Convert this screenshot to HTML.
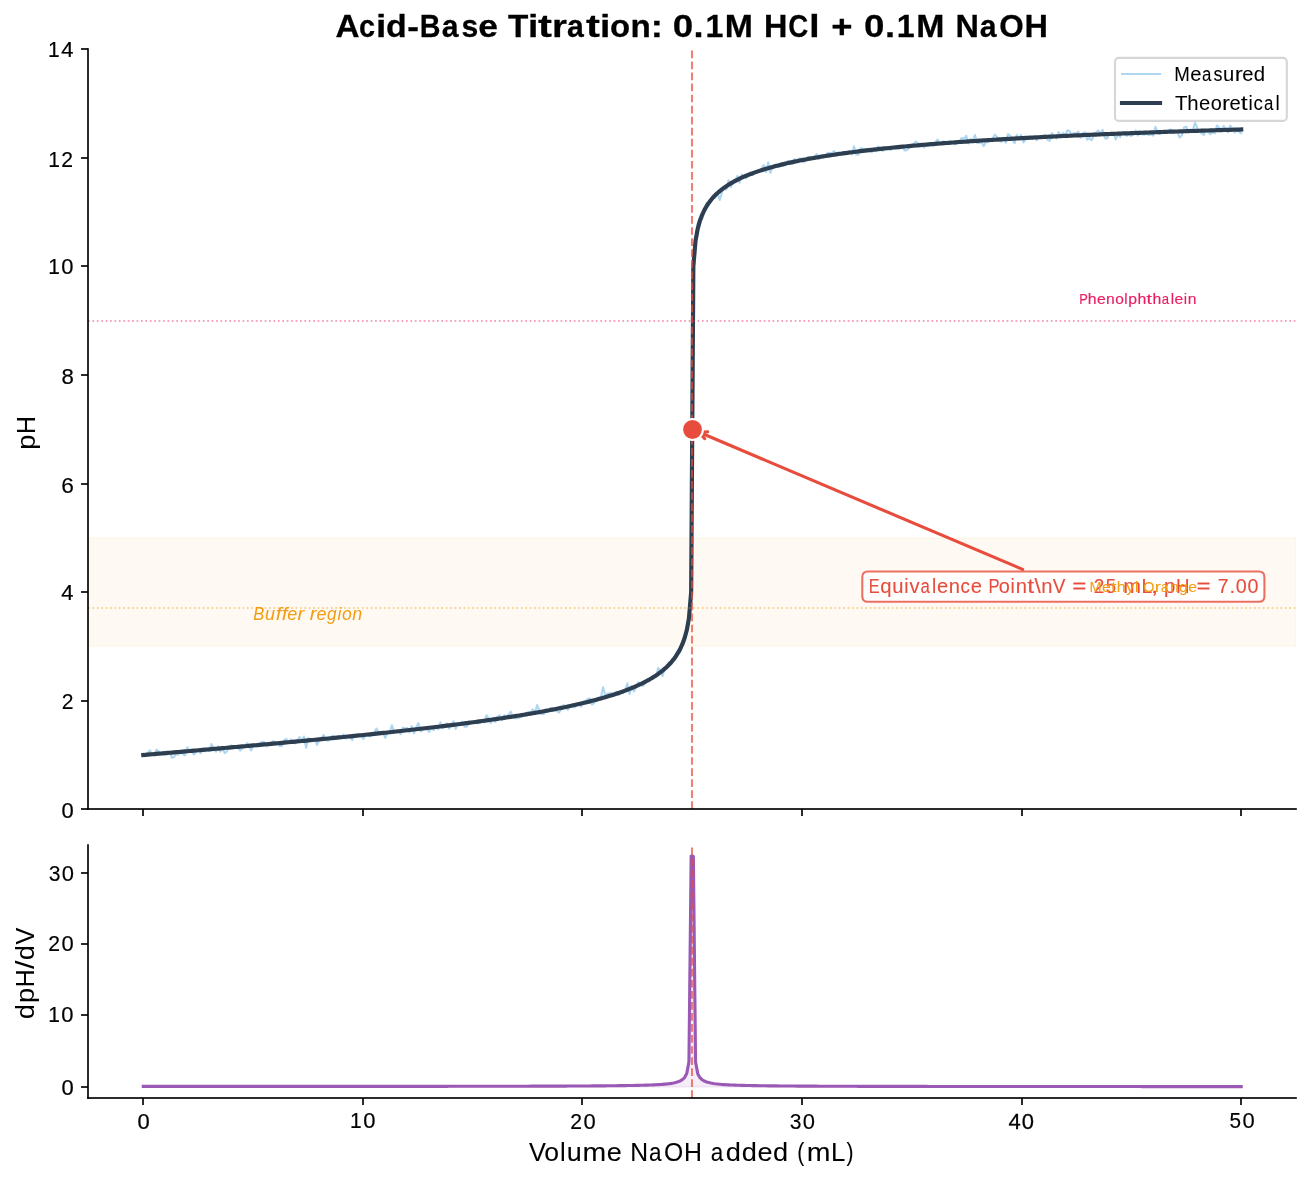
<!DOCTYPE html>
<html><head><meta charset="utf-8"><title>Acid-Base Titration</title>
<style>html,body{margin:0;padding:0;background:#fff;overflow:hidden}svg{display:block;will-change:transform}</style>
</head><body>
<svg width="1311" height="1180" viewBox="0 0 1311 1180">
<rect width="1311" height="1180" fill="#fff"/>
<defs><clipPath id="c1"><rect x="88" y="49" width="1208" height="760"/></clipPath><clipPath id="c2"><rect x="88" y="845" width="1208" height="253"/></clipPath></defs>
<g clip-path="url(#c1)"><path d="M88 646H1296V538H88Z" fill="#f39c12" fill-opacity="0.05" stroke="#f39c12" stroke-opacity="0.05" stroke-width="2.08" stroke-linejoin="miter"/></g>
<path d="M143 809V816" stroke="#000" stroke-opacity="0.8333" stroke-width="2"/>
<path d="M363 809V816" stroke="#000" stroke-opacity="0.8333" stroke-width="2"/>
<path d="M582 809V816" stroke="#000" stroke-opacity="0.8333" stroke-width="2"/>
<path d="M802 809V816" stroke="#000" stroke-opacity="0.8333" stroke-width="2"/>
<path d="M1022 809V816" stroke="#000" stroke-opacity="0.8333" stroke-width="2"/>
<path d="M1241 809V816" stroke="#000" stroke-opacity="0.8333" stroke-width="2"/>
<path d="M81 809H88" stroke="#000" stroke-opacity="0.8333" stroke-width="2"/>
<path d="M81 701H88" stroke="#000" stroke-opacity="0.8333" stroke-width="2"/>
<path d="M81 592H88" stroke="#000" stroke-opacity="0.8333" stroke-width="2"/>
<path d="M81 484H88" stroke="#000" stroke-opacity="0.8333" stroke-width="2"/>
<path d="M81 375H88" stroke="#000" stroke-opacity="0.8333" stroke-width="2"/>
<path d="M81 266H88" stroke="#000" stroke-opacity="0.8333" stroke-width="2"/>
<path d="M81 158H88" stroke="#000" stroke-opacity="0.8333" stroke-width="2"/>
<path d="M81 49H88" stroke="#000" stroke-opacity="0.8333" stroke-width="2"/>
<text transform="translate(74.27 817.5)" y="0" stroke="#000" stroke-width="0.244" stroke-linejoin="round" style="font-family:'Liberation Sans', sans-serif;font-size:21.98px;font-variant-ligatures:none;white-space:pre"><tspan x="-12.74" textLength="12.21" lengthAdjust="spacingAndGlyphs">0</tspan></text>
<text transform="translate(74.42 709.07)" y="0" stroke="#000" stroke-width="0.126" stroke-linejoin="round" style="font-family:'Liberation Sans', sans-serif;font-size:21.98px;font-variant-ligatures:none;white-space:pre"><tspan x="-12.79" textLength="11.77" lengthAdjust="spacingAndGlyphs">2</tspan></text>
<text transform="translate(74.07 600.23)" y="0" stroke="#000" stroke-width="0.212" stroke-linejoin="round" style="font-family:'Liberation Sans', sans-serif;font-size:21.98px;font-variant-ligatures:none;white-space:pre"><tspan x="-12.74" textLength="12.22" lengthAdjust="spacingAndGlyphs">4</tspan></text>
<text transform="translate(74.12 492.72)" y="0" stroke="#000" stroke-width="0.159" stroke-linejoin="round" style="font-family:'Liberation Sans', sans-serif;font-size:21.98px;font-variant-ligatures:none;white-space:pre"><tspan x="-12.95" textLength="12.64" lengthAdjust="spacingAndGlyphs">6</tspan></text>
<text transform="translate(74.31 383.58)" y="0" stroke="#000" stroke-width="0.206" stroke-linejoin="round" style="font-family:'Liberation Sans', sans-serif;font-size:21.98px;font-variant-ligatures:none;white-space:pre"><tspan x="-12.81" textLength="12.35" lengthAdjust="spacingAndGlyphs">8</tspan></text>
<text transform="translate(73.99 274.13)" y="0" stroke="#000" stroke-width="0.212" stroke-linejoin="round" style="font-family:'Liberation Sans', sans-serif;font-size:21.98px;font-variant-ligatures:none;white-space:pre"><tspan x="-25.82" textLength="11.67" lengthAdjust="spacingAndGlyphs">1</tspan><tspan x="-12.74" textLength="12.21" lengthAdjust="spacingAndGlyphs">0</tspan></text>
<text transform="translate(73.95 166.65)" y="0" stroke="#000" stroke-width="0.15" stroke-linejoin="round" style="font-family:'Liberation Sans', sans-serif;font-size:21.98px;font-variant-ligatures:none;white-space:pre"><tspan x="-25.82" textLength="11.67" lengthAdjust="spacingAndGlyphs">1</tspan><tspan x="-12.79" textLength="11.77" lengthAdjust="spacingAndGlyphs">2</tspan></text>
<text transform="translate(73.88 56.92)" y="0" stroke="#000" stroke-width="0.206" stroke-linejoin="round" style="font-family:'Liberation Sans', sans-serif;font-size:21.98px;font-variant-ligatures:none;white-space:pre"><tspan x="-25.82" textLength="11.67" lengthAdjust="spacingAndGlyphs">1</tspan><tspan x="-12.74" textLength="12.22" lengthAdjust="spacingAndGlyphs">4</tspan></text>
<text transform="translate(35.29 433.06) rotate(-90)" y="0" stroke="#000" stroke-width="0.027" stroke-linejoin="round" style="font-family:'Liberation Sans', sans-serif;font-size:26.38px;font-variant-ligatures:none;white-space:pre"><tspan x="-16.82" textLength="15.13" lengthAdjust="spacingAndGlyphs">p</tspan><tspan x="-1.05" textLength="17.96" lengthAdjust="spacingAndGlyphs">H</tspan></text>
<path clip-path="url(#c1)" d="M143.3 753.67L145.5 755.2L147.7 752.88L149.9 750.31L152.1 754.89L154.3 754.7L156.5 749.59L158.7 751.61L160.9 754.78L163.1 751.84L165.3 754.38L167.5 754.2L169.7 752.09L171.9 757.75L174.1 757.05L176.3 753.7L178.5 754.74L180.7 750.94L182.9 754.07L185.1 755.25L187.3 747.25L189.5 751.65L191.7 750.66L193.9 754.52L196.1 751.94L198.3 749.97L200.5 753.21L202.7 748.87L204.9 751.33L207.1 750.3L209.3 750.95L211.5 744.1L213.7 748.97L215.9 751.61L218.1 746.32L220.3 751.67L222.5 747.6L224.7 753.29L226.9 751.38L229.1 747.05L231.3 745.38L233.5 746.73L235.7 747.31L237.9 747.62L240.11 750.62L242.31 748.37L244.51 747.47L246.71 743.16L248.91 744.9L251.11 750.42L253.31 744.56L255.51 746.28L257.71 746.88L259.91 743.18L262.11 741.85L264.31 741.92L266.51 746.53L268.71 744.89L270.91 742.95L273.11 741L275.31 744.75L277.51 743.75L279.71 746.05L281.91 746.09L284.11 740.44L286.31 738.76L288.51 742.43L290.71 739.31L292.91 740.85L295.11 743.38L297.31 740.44L299.51 737.04L301.71 741.11L303.91 736.56L306.11 747.71L308.31 738.16L310.51 739.94L312.71 740.78L314.91 739.51L317.11 744.95L319.31 739.94L321.51 738.16L323.71 734.91L325.91 740.11L328.11 740.69L330.31 739.64L332.51 735.58L334.71 736.96L336.91 739.08L339.11 736.03L341.32 736.94L343.52 734.36L345.72 738.67L347.92 737.44L350.12 737.39L352.32 740.08L354.52 735.08L356.72 734.96L358.92 735.43L361.12 735.85L363.32 738.84L365.52 735.91L367.72 735.47L369.92 736.49L372.12 734.52L374.32 732.76L376.52 728.51L378.72 732.92L380.92 732.46L383.12 733.13L385.32 737.9L387.52 732.53L389.72 732.06L391.92 725.3L394.12 732.27L396.32 730.69L398.52 731.36L400.72 734.2L402.92 727.68L405.12 728.5L407.32 728.15L409.52 732.52L411.72 725.99L413.92 733.36L416.12 727.71L418.32 723.1L420.52 731.49L422.72 730.08L424.92 728.02L427.12 729.4L429.32 731.98L431.52 727.33L433.72 730.13L435.92 725.7L438.12 729.22L440.32 722.25L442.53 728.31L444.73 726.79L446.93 723.44L449.13 728.71L451.33 724.48L453.53 721.27L455.73 728.91L457.93 723.76L460.13 723.27L462.33 721.57L464.53 726.77L466.73 726.7L468.93 721.41L471.13 721.73L473.33 721.56L475.53 721L477.73 723.49L479.93 720.71L482.13 720.24L484.33 722.67L486.53 715.36L488.73 718.83L490.93 723.03L493.13 717.7L495.33 721.81L497.53 716.7L499.73 715.37L501.93 720.41L504.13 715.24L506.33 716.4L508.53 714.95L510.73 711.69L512.93 717.16L515.13 718.2L517.33 718.21L519.53 717.66L521.73 715.3L523.93 713.8L526.13 713.61L528.33 711.74L530.53 713.58L532.73 709.29L534.93 713.57L537.13 705.08L539.33 710.38L541.54 714.01L543.74 714.18L545.94 709.56L548.14 711.07L550.34 708.1L552.54 708.34L554.74 709.39L556.94 711.06L559.14 712.43L561.34 709.08L563.54 705.09L565.74 706.38L567.94 709.87L570.14 705.55L572.34 704.49L574.54 707.44L576.74 704.13L578.94 703.88L581.14 706.63L583.34 702.03L585.54 700.95L587.74 698.99L589.94 698.51L592.14 704.55L594.34 702.78L596.54 698.24L598.74 697.65L600.94 697.03L603.14 687.35L605.34 695.61L607.54 693.42L609.74 693.25L611.94 693.38L614.14 695.3L616.34 691.66L618.54 695.07L620.74 692.85L622.94 692.74L625.14 690.39L627.34 683.49L629.54 693.98L631.74 686.15L633.94 691.47L636.14 687.42L638.34 682.19L640.54 683.94L642.75 685.96L644.95 683.86L647.15 678.9L649.35 681.5L651.55 677.64L653.75 676.74L655.95 677.2L658.15 668.09L660.35 670.57L662.55 676.05L664.75 668.18L666.95 668.47L669.15 662.17L671.35 664.23L673.55 659.72L675.75 655.04L677.95 650.63L680.15 652.26L682.35 645.13L684.55 639.54L686.75 632.04L688.95 613.38L691.15 591.13L693.35 269.84L695.55 238.07L697.75 222.81L699.95 217.88L702.15 218.93L704.35 211.44L706.55 202.79L708.75 204.82L710.95 198.79L713.15 195.32L715.35 197.62L717.55 193.17L719.75 199.89L721.95 192.1L724.15 188.37L726.35 189.54L728.55 180.3L730.75 187.27L732.95 183.32L735.15 180.57L737.35 175.88L739.55 182.61L741.75 174.53L743.96 176.68L746.16 178.44L748.36 173.62L750.56 173.47L752.76 174.81L754.96 172.2L757.16 172.66L759.36 170.57L761.56 168.36L763.76 165.16L765.96 172.16L768.16 162.36L770.36 172.82L772.56 167.32L774.76 164.72L776.96 164.98L779.16 166.87L781.36 165.2L783.56 165.44L785.76 165.18L787.96 160.77L790.16 161.62L792.36 163.99L794.56 159.19L796.76 160.34L798.96 158.52L801.16 158.58L803.36 162.11L805.56 160.96L807.76 157L809.96 156.97L812.16 158.29L814.36 157.53L816.56 154L818.76 158.71L820.96 155.25L823.16 156.93L825.36 156.62L827.56 152.7L829.76 153.11L831.96 152.81L834.16 151.14L836.36 154.31L838.56 152.2L840.76 154.58L842.96 152.56L845.17 153.49L847.37 152.58L849.57 150.93L851.77 154.48L853.97 146.3L856.17 154.43L858.37 154.73L860.57 148.02L862.77 148.75L864.97 148.94L867.17 148.67L869.37 150.16L871.57 152.31L873.77 149.42L875.97 151.22L878.17 146.49L880.37 149.3L882.57 150.91L884.77 149.31L886.97 147.09L889.17 149.52L891.37 150L893.57 146.88L895.77 146.66L897.97 148.49L900.17 148.18L902.37 146.07L904.57 150.42L906.77 150.11L908.97 148.04L911.17 146.47L913.37 144.85L915.57 141.49L917.77 142.98L919.97 145.55L922.17 144.98L924.37 147.46L926.57 144.61L928.77 145.16L930.97 143.32L933.17 146.27L935.37 142.43L937.57 139.51L939.77 143.79L941.97 142.24L944.18 141.29L946.38 144.08L948.58 142.22L950.78 142.63L952.98 142.24L955.18 144.44L957.38 142.12L959.58 140.68L961.78 137.93L963.98 139.12L966.18 135.72L968.38 143.5L970.58 138.9L972.78 140.62L974.98 135.03L977.18 143.02L979.38 142.96L981.58 142.17L983.78 146.16L985.98 141.69L988.18 142.18L990.38 139.58L992.58 138.92L994.78 134.62L996.98 137L999.18 141.01L1001.38 141.75L1003.58 137.85L1005.78 142.64L1007.98 133.96L1010.18 135.6L1012.38 139.95L1014.58 143.2L1016.78 134.75L1018.98 138.61L1021.18 134.82L1023.38 142.39L1025.58 139.57L1027.78 137.81L1029.98 137.58L1032.18 138.81L1034.38 135.78L1036.58 140.25L1038.78 137.63L1040.98 136.8L1043.18 135.62L1045.39 134.97L1047.59 139.84L1049.79 140.85L1051.99 133.11L1054.19 135.56L1056.39 138.39L1058.59 132.04L1060.79 135.83L1062.99 132.84L1065.19 135.75L1067.39 130.24L1069.59 130.97L1071.79 136.3L1073.99 132.89L1076.19 133.67L1078.39 131.61L1080.59 137.85L1082.79 133.27L1084.99 132.16L1087.19 139.71L1089.39 138.05L1091.59 140.28L1093.79 135.38L1095.99 132.61L1098.19 130.38L1100.39 134.17L1102.59 129.85L1104.79 137.93L1106.99 138.72L1109.19 134.15L1111.39 132.87L1113.59 133.91L1115.79 139.35L1117.99 133.89L1120.19 137.1L1122.39 131.65L1124.59 132.39L1126.79 135.85L1128.99 134.61L1131.19 136L1133.39 133.22L1135.59 130.37L1137.79 135.55L1139.99 131.43L1142.19 134.15L1144.39 134.78L1146.6 132.84L1148.8 135.28L1151 133.89L1153.2 135.56L1155.4 126.9L1157.6 132.06L1159.8 133.97L1162 131.42L1164.2 132.23L1166.4 132.44L1168.6 130.1L1170.8 129.64L1173 133.06L1175.2 133.11L1177.4 132.21L1179.6 137.64L1181.8 135.43L1184 127.54L1186.2 126.71L1188.4 131.78L1190.6 129.47L1192.8 130.11L1195 122.53L1197.2 127.78L1199.4 131.1L1201.6 133.27L1203.8 134.97L1206 129.99L1208.2 132.52L1210.4 134.26L1212.6 132.09L1214.8 133.2L1217 125.62L1219.2 127.74L1221.4 130.09L1223.6 125.98L1225.8 129.73L1228 132.21L1230.2 125.67L1232.4 128.28L1234.6 132.49L1236.8 130.13L1239 131.93L1241.2 133.24" fill="none" stroke="#3498db" stroke-opacity="0.4" stroke-width="2.08" stroke-linejoin="round" stroke-linecap="square"/>
<path clip-path="url(#c1)" d="M143.3 755.01L145.5 754.83L147.7 754.64L149.9 754.45L152.1 754.26L154.3 754.07L156.5 753.88L158.7 753.69L160.9 753.5L163.1 753.31L165.3 753.12L167.5 752.93L169.7 752.74L171.9 752.56L174.1 752.37L176.3 752.18L178.5 751.99L180.7 751.8L182.9 751.61L185.1 751.42L187.3 751.23L189.5 751.04L191.7 750.85L193.9 750.66L196.1 750.46L198.3 750.27L200.5 750.08L202.7 749.89L204.9 749.7L207.1 749.51L209.3 749.32L211.5 749.13L213.7 748.93L215.9 748.74L218.1 748.55L220.3 748.36L222.5 748.16L224.7 747.97L226.9 747.78L229.1 747.58L231.3 747.39L233.5 747.19L235.7 747L237.9 746.81L240.11 746.61L242.31 746.42L244.51 746.22L246.71 746.02L248.91 745.83L251.11 745.63L253.31 745.44L255.51 745.24L257.71 745.04L259.91 744.84L262.11 744.65L264.31 744.45L266.51 744.25L268.71 744.05L270.91 743.85L273.11 743.65L275.31 743.45L277.51 743.25L279.71 743.05L281.91 742.84L284.11 742.64L286.31 742.44L288.51 742.24L290.71 742.03L292.91 741.83L295.11 741.63L297.31 741.42L299.51 741.22L301.71 741.01L303.91 740.8L306.11 740.6L308.31 740.39L310.51 740.18L312.71 739.97L314.91 739.76L317.11 739.55L319.31 739.34L321.51 739.13L323.71 738.92L325.91 738.71L328.11 738.5L330.31 738.28L332.51 738.07L334.71 737.85L336.91 737.64L339.11 737.42L341.32 737.2L343.52 736.99L345.72 736.77L347.92 736.55L350.12 736.33L352.32 736.11L354.52 735.89L356.72 735.67L358.92 735.44L361.12 735.22L363.32 734.99L365.52 734.77L367.72 734.54L369.92 734.31L372.12 734.09L374.32 733.86L376.52 733.63L378.72 733.4L380.92 733.16L383.12 732.93L385.32 732.7L387.52 732.46L389.72 732.22L391.92 731.99L394.12 731.75L396.32 731.51L398.52 731.27L400.72 731.03L402.92 730.78L405.12 730.54L407.32 730.3L409.52 730.05L411.72 729.8L413.92 729.55L416.12 729.3L418.32 729.05L420.52 728.8L422.72 728.54L424.92 728.29L427.12 728.03L429.32 727.77L431.52 727.51L433.72 727.25L435.92 726.99L438.12 726.72L440.32 726.46L442.53 726.19L444.73 725.92L446.93 725.65L449.13 725.37L451.33 725.1L453.53 724.82L455.73 724.54L457.93 724.26L460.13 723.98L462.33 723.7L464.53 723.41L466.73 723.12L468.93 722.83L471.13 722.54L473.33 722.24L475.53 721.95L477.73 721.65L479.93 721.34L482.13 721.04L484.33 720.73L486.53 720.42L488.73 720.11L490.93 719.8L493.13 719.48L495.33 719.16L497.53 718.84L499.73 718.51L501.93 718.19L504.13 717.86L506.33 717.52L508.53 717.18L510.73 716.84L512.93 716.5L515.13 716.15L517.33 715.8L519.53 715.45L521.73 715.09L523.93 714.73L526.13 714.36L528.33 713.99L530.53 713.62L532.73 713.24L534.93 712.85L537.13 712.47L539.33 712.08L541.54 711.68L543.74 711.28L545.94 710.87L548.14 710.46L550.34 710.04L552.54 709.62L554.74 709.19L556.94 708.76L559.14 708.32L561.34 707.87L563.54 707.42L565.74 706.96L567.94 706.49L570.14 706.02L572.34 705.53L574.54 705.04L576.74 704.55L578.94 704.04L581.14 703.53L583.34 703L585.54 702.47L587.74 701.92L589.94 701.37L592.14 700.81L594.34 700.23L596.54 699.64L598.74 699.04L600.94 698.43L603.14 697.8L605.34 697.16L607.54 696.51L609.74 695.84L611.94 695.15L614.14 694.44L616.34 693.72L618.54 692.97L620.74 692.21L622.94 691.42L625.14 690.61L627.34 689.77L629.54 688.91L631.74 688.02L633.94 687.09L636.14 686.14L638.34 685.14L640.54 684.11L642.75 683.04L644.95 681.92L647.15 680.74L649.35 679.52L651.55 678.23L653.75 676.87L655.95 675.43L658.15 673.91L660.35 672.29L662.55 670.55L664.75 668.69L666.95 666.68L669.15 664.48L671.35 662.08L673.55 659.41L675.75 656.41L677.95 652.98L680.15 649L682.35 644.22L684.55 638.25L686.75 630.27L688.95 618.18L691.15 592.23L693.35 266.42L695.55 240.57L697.75 228.57L699.95 220.68L702.15 214.81L704.35 210.12L706.55 206.23L708.75 202.9L710.95 200L713.15 197.42L715.35 195.11L717.55 193.01L719.75 191.09L721.95 189.32L724.15 187.68L726.35 186.16L728.55 184.73L730.75 183.39L732.95 182.12L735.15 180.93L737.35 179.79L739.55 178.72L741.75 177.69L743.96 176.71L746.16 175.77L748.36 174.87L750.56 174.01L752.76 173.18L754.96 172.39L757.16 171.62L759.36 170.88L761.56 170.16L763.76 169.47L765.96 168.8L768.16 168.15L770.36 167.52L772.56 166.91L774.76 166.31L776.96 165.74L779.16 165.18L781.36 164.63L783.56 164.1L785.76 163.58L787.96 163.08L790.16 162.59L792.36 162.1L794.56 161.64L796.76 161.18L798.96 160.73L801.16 160.29L803.36 159.86L805.56 159.44L807.76 159.03L809.96 158.63L812.16 158.24L814.36 157.85L816.56 157.47L818.76 157.1L820.96 156.74L823.16 156.38L825.36 156.03L827.56 155.68L829.76 155.35L831.96 155.01L834.16 154.69L836.36 154.37L838.56 154.05L840.76 153.74L842.96 153.43L845.17 153.13L847.37 152.84L849.57 152.55L851.77 152.26L853.97 151.98L856.17 151.7L858.37 151.43L860.57 151.16L862.77 150.9L864.97 150.63L867.17 150.38L869.37 150.12L871.57 149.87L873.77 149.63L875.97 149.38L878.17 149.14L880.37 148.9L882.57 148.67L884.77 148.44L886.97 148.21L889.17 147.99L891.37 147.77L893.57 147.55L895.77 147.33L897.97 147.12L900.17 146.91L902.37 146.7L904.57 146.49L906.77 146.29L908.97 146.09L911.17 145.89L913.37 145.69L915.57 145.5L917.77 145.3L919.97 145.12L922.17 144.93L924.37 144.74L926.57 144.56L928.77 144.38L930.97 144.2L933.17 144.02L935.37 143.84L937.57 143.67L939.77 143.5L941.97 143.33L944.18 143.16L946.38 142.99L948.58 142.83L950.78 142.67L952.98 142.5L955.18 142.34L957.38 142.19L959.58 142.03L961.78 141.87L963.98 141.72L966.18 141.57L968.38 141.42L970.58 141.27L972.78 141.12L974.98 140.97L977.18 140.83L979.38 140.68L981.58 140.54L983.78 140.4L985.98 140.26L988.18 140.12L990.38 139.98L992.58 139.85L994.78 139.71L996.98 139.58L999.18 139.45L1001.38 139.31L1003.58 139.18L1005.78 139.06L1007.98 138.93L1010.18 138.8L1012.38 138.67L1014.58 138.55L1016.78 138.43L1018.98 138.3L1021.18 138.18L1023.38 138.06L1025.58 137.94L1027.78 137.82L1029.98 137.7L1032.18 137.59L1034.38 137.47L1036.58 137.35L1038.78 137.24L1040.98 137.13L1043.18 137.01L1045.39 136.9L1047.59 136.79L1049.79 136.68L1051.99 136.57L1054.19 136.47L1056.39 136.36L1058.59 136.25L1060.79 136.15L1062.99 136.04L1065.19 135.94L1067.39 135.83L1069.59 135.73L1071.79 135.63L1073.99 135.53L1076.19 135.43L1078.39 135.33L1080.59 135.23L1082.79 135.13L1084.99 135.03L1087.19 134.93L1089.39 134.84L1091.59 134.74L1093.79 134.65L1095.99 134.55L1098.19 134.46L1100.39 134.37L1102.59 134.27L1104.79 134.18L1106.99 134.09L1109.19 134L1111.39 133.91L1113.59 133.82L1115.79 133.73L1117.99 133.65L1120.19 133.56L1122.39 133.47L1124.59 133.39L1126.79 133.3L1128.99 133.21L1131.19 133.13L1133.39 133.05L1135.59 132.96L1137.79 132.88L1139.99 132.8L1142.19 132.71L1144.39 132.63L1146.6 132.55L1148.8 132.47L1151 132.39L1153.2 132.31L1155.4 132.23L1157.6 132.15L1159.8 132.08L1162 132L1164.2 131.92L1166.4 131.84L1168.6 131.77L1170.8 131.69L1173 131.62L1175.2 131.54L1177.4 131.47L1179.6 131.39L1181.8 131.32L1184 131.25L1186.2 131.17L1188.4 131.1L1190.6 131.03L1192.8 130.96L1195 130.89L1197.2 130.82L1199.4 130.75L1201.6 130.68L1203.8 130.61L1206 130.54L1208.2 130.47L1210.4 130.4L1212.6 130.34L1214.8 130.27L1217 130.2L1219.2 130.13L1221.4 130.07L1223.6 130L1225.8 129.94L1228 129.87L1230.2 129.81L1232.4 129.74L1234.6 129.68L1236.8 129.61L1239 129.55L1241.2 129.49" fill="none" stroke="#2c3e50" stroke-width="4.17" stroke-linejoin="round" stroke-linecap="square"/>
<path clip-path="url(#c1)" d="M692 809V49" stroke="#e74c3c" stroke-opacity="0.7" stroke-width="2.08" stroke-dasharray="7.7083 3.3333"/>
<path clip-path="url(#c1)" d="M88 321H1296" stroke="#e91e63" stroke-opacity="0.4167" stroke-width="2" stroke-dasharray="1.6667 2.75"/>
<path clip-path="url(#c1)" d="M88 608H1296" stroke="#f39c12" stroke-opacity="0.4167" stroke-width="2" stroke-dasharray="1.6667 2.75"/>
<path d="M88 809.8333V48.1667" stroke="#000" stroke-opacity="0.8333" stroke-width="2"/>
<path d="M87.1667 809H1296.8333" stroke="#000" stroke-opacity="0.8333" stroke-width="2"/>
<text transform="translate(1196.71 304.1)" y="0" fill="#e91e63" stroke="#e91e63" stroke-width="0.168" stroke-linejoin="round" style="font-family:'Liberation Sans', sans-serif;font-size:15.39px;font-variant-ligatures:none;white-space:pre"><tspan x="-117.57" textLength="8.6" lengthAdjust="spacingAndGlyphs">P</tspan><tspan x="-108.92" textLength="8.81" lengthAdjust="spacingAndGlyphs">h</tspan><tspan x="-99.77" textLength="8.76" lengthAdjust="spacingAndGlyphs">e</tspan><tspan x="-90.65" textLength="8.74" lengthAdjust="spacingAndGlyphs">n</tspan><tspan x="-81.53" textLength="8.62" lengthAdjust="spacingAndGlyphs">o</tspan><tspan x="-72.4" textLength="3.31" lengthAdjust="spacingAndGlyphs">l</tspan><tspan x="-68.41" textLength="8.82" lengthAdjust="spacingAndGlyphs">p</tspan><tspan x="-59.23" textLength="8.81" lengthAdjust="spacingAndGlyphs">h</tspan><tspan x="-50.12" textLength="5.42" lengthAdjust="spacingAndGlyphs">t</tspan><tspan x="-44.27" textLength="8.81" lengthAdjust="spacingAndGlyphs">h</tspan><tspan x="-34.94" textLength="7.29" lengthAdjust="spacingAndGlyphs">a</tspan><tspan x="-25.95" textLength="3.31" lengthAdjust="spacingAndGlyphs">l</tspan><tspan x="-22.13" textLength="8.76" lengthAdjust="spacingAndGlyphs">e</tspan><tspan x="-12.92" textLength="3.31" lengthAdjust="spacingAndGlyphs">i</tspan><tspan x="-8.96" textLength="8.74" lengthAdjust="spacingAndGlyphs">n</tspan></text>
<path d="M1022.67 569.4Q859.37 500.17 699.3 432.29" fill="none" stroke="#e74c3c" stroke-width="3.12" stroke-linecap="round"/>
<path d="M704.74 438.67L699.3 432.29L707.67 431.77" fill="none" stroke="#e74c3c" stroke-width="3.12" stroke-linecap="round"/>
<path d="M867.92 601.78L1258.79 601.78Q1264.42 601.78 1264.42 596.16L1264.42 577.16Q1264.42 571.53 1258.79 571.53L867.92 571.53Q862.29 571.53 862.29 577.16L862.29 596.16Q862.29 601.78 867.92 601.78Z" fill="#fff" fill-opacity="0.8" stroke="#e74c3c" stroke-opacity="0.8" stroke-width="2.08" stroke-linejoin="miter"/>
<text transform="translate(868.17 593.38)" y="0" fill="#e74c3c" stroke="#e74c3c" stroke-width="0.1" stroke-linejoin="round" style="font-family:'Liberation Sans', sans-serif;font-size:19.78px;font-variant-ligatures:none;white-space:pre"><tspan x="0.51" textLength="10.84" lengthAdjust="spacingAndGlyphs">E</tspan><tspan x="12.03" textLength="11.32" lengthAdjust="spacingAndGlyphs">q</tspan><tspan x="24.03" textLength="11.24" lengthAdjust="spacingAndGlyphs">u</tspan><tspan x="36.12" textLength="4.26" lengthAdjust="spacingAndGlyphs">i</tspan><tspan x="41.33" textLength="10.12" lengthAdjust="spacingAndGlyphs">v</tspan><tspan x="52.35" textLength="9.38" lengthAdjust="spacingAndGlyphs">a</tspan><tspan x="63.9" textLength="4.26" lengthAdjust="spacingAndGlyphs">l</tspan><tspan x="68.81" textLength="11.26" lengthAdjust="spacingAndGlyphs">e</tspan><tspan x="80.53" textLength="11.24" lengthAdjust="spacingAndGlyphs">n</tspan><tspan x="92.29" textLength="9.41" lengthAdjust="spacingAndGlyphs">c</tspan><tspan x="102.54" textLength="11.26" lengthAdjust="spacingAndGlyphs">e</tspan><tspan x="113.9"> </tspan><tspan x="120.34" textLength="11.06" lengthAdjust="spacingAndGlyphs">P</tspan><tspan x="130.69" textLength="11.09" lengthAdjust="spacingAndGlyphs">o</tspan><tspan x="142.44" textLength="4.26" lengthAdjust="spacingAndGlyphs">i</tspan><tspan x="147.53" textLength="11.24" lengthAdjust="spacingAndGlyphs">n</tspan><tspan x="159.18" textLength="6.96" lengthAdjust="spacingAndGlyphs">t</tspan><tspan x="166.4" textLength="6.32" lengthAdjust="spacingAndGlyphs">\</tspan><tspan x="173.08" textLength="11.24" lengthAdjust="spacingAndGlyphs">n</tspan><tspan x="184.67" textLength="12.69" lengthAdjust="spacingAndGlyphs">V</tspan><tspan x="197.43"> </tspan><tspan x="204.2" textLength="14.11" lengthAdjust="spacingAndGlyphs">=</tspan><tspan x="219.1"> </tspan><tspan x="225.48" textLength="10.6" lengthAdjust="spacingAndGlyphs">2</tspan><tspan x="237.69" textLength="10.37" lengthAdjust="spacingAndGlyphs">5</tspan><tspan x="248.92"> </tspan><tspan x="255.16" textLength="17.8" lengthAdjust="spacingAndGlyphs">m</tspan><tspan x="273.4" textLength="10.73" lengthAdjust="spacingAndGlyphs">L</tspan><tspan x="282.58" textLength="7.59" lengthAdjust="spacingAndGlyphs">,</tspan><tspan x="289.55"> </tspan><tspan x="295.9" textLength="11.34" lengthAdjust="spacingAndGlyphs">p</tspan><tspan x="307.72" textLength="13.47" lengthAdjust="spacingAndGlyphs">H</tspan><tspan x="321.51"> </tspan><tspan x="328.28" textLength="14.11" lengthAdjust="spacingAndGlyphs">=</tspan><tspan x="343.18"> </tspan><tspan x="349.69" textLength="10.75" lengthAdjust="spacingAndGlyphs">7</tspan><tspan x="361.23" textLength="5.64" lengthAdjust="spacingAndGlyphs">.</tspan><tspan x="367.5" textLength="10.99" lengthAdjust="spacingAndGlyphs">0</tspan><tspan x="379.43" textLength="10.99" lengthAdjust="spacingAndGlyphs">0</tspan></text>
<text transform="translate(1197.07 592.01)" y="0" fill="#f39c12" stroke="#f39c12" stroke-width="0.063" stroke-linejoin="round" style="font-family:'Liberation Sans', sans-serif;font-size:15.39px;font-variant-ligatures:none;white-space:pre"><tspan x="-107.48" textLength="12.11" lengthAdjust="spacingAndGlyphs">M</tspan><tspan x="-95" textLength="8.76" lengthAdjust="spacingAndGlyphs">e</tspan><tspan x="-86.07" textLength="5.42" lengthAdjust="spacingAndGlyphs">t</tspan><tspan x="-80.22" textLength="8.81" lengthAdjust="spacingAndGlyphs">h</tspan><tspan x="-70.81" textLength="7.83" lengthAdjust="spacingAndGlyphs">y</tspan><tspan x="-62.2" textLength="3.31" lengthAdjust="spacingAndGlyphs">l</tspan><tspan x="-58.52"> </tspan><tspan x="-53.75" textLength="11.21" lengthAdjust="spacingAndGlyphs">O</tspan><tspan x="-42.32" textLength="6.22" lengthAdjust="spacingAndGlyphs">r</tspan><tspan x="-36.09" textLength="7.29" lengthAdjust="spacingAndGlyphs">a</tspan><tspan x="-27.19" textLength="8.74" lengthAdjust="spacingAndGlyphs">n</tspan><tspan x="-18.09" textLength="8.82" lengthAdjust="spacingAndGlyphs">g</tspan><tspan x="-8.84" textLength="8.76" lengthAdjust="spacingAndGlyphs">e</tspan></text>
<text transform="translate(253.37 619.89)" y="0" fill="#f39c12" style="font-family:'Liberation Sans', sans-serif;font-size:17.58px;font-style:italic;font-variant-ligatures:none;white-space:pre"><tspan x="-0.06" textLength="11.04" lengthAdjust="spacingAndGlyphs">B</tspan><tspan x="11.63" textLength="9.97" lengthAdjust="spacingAndGlyphs">u</tspan><tspan x="22.43" textLength="5.75" lengthAdjust="spacingAndGlyphs">f</tspan><tspan x="28.3" textLength="5.75" lengthAdjust="spacingAndGlyphs">f</tspan><tspan x="33.89" textLength="10.02" lengthAdjust="spacingAndGlyphs">e</tspan><tspan x="44.23" textLength="6.78" lengthAdjust="spacingAndGlyphs">r</tspan><tspan x="50.84"> </tspan><tspan x="56.38" textLength="6.78" lengthAdjust="spacingAndGlyphs">r</tspan><tspan x="63.15" textLength="10.02" lengthAdjust="spacingAndGlyphs">e</tspan><tspan x="73.75" textLength="9.58" lengthAdjust="spacingAndGlyphs">g</tspan><tspan x="84.13" textLength="3.85" lengthAdjust="spacingAndGlyphs">i</tspan><tspan x="88.64" textLength="9.8" lengthAdjust="spacingAndGlyphs">o</tspan><tspan x="98.94" textLength="9.96" lengthAdjust="spacingAndGlyphs">n</tspan></text>
<text transform="translate(692.27 37.12)" y="0" stroke="#000" stroke-width="0.26" stroke-linejoin="round" style="font-family:'Liberation Sans', sans-serif;font-size:30.77px;font-weight:bold;font-variant-ligatures:none;white-space:pre"><tspan x="-356.71" textLength="23.99" lengthAdjust="spacingAndGlyphs">A</tspan><tspan x="-333.33" textLength="16.06" lengthAdjust="spacingAndGlyphs">c</tspan><tspan x="-316.31" textLength="10.32" lengthAdjust="spacingAndGlyphs">i</tspan><tspan x="-306.25" textLength="20.75" lengthAdjust="spacingAndGlyphs">d</tspan><tspan x="-285.09" textLength="11.73" lengthAdjust="spacingAndGlyphs">-</tspan><tspan x="-272.43" textLength="20.73" lengthAdjust="spacingAndGlyphs">B</tspan><tspan x="-250.59" textLength="16.83" lengthAdjust="spacingAndGlyphs">a</tspan><tspan x="-230.82" textLength="16.77" lengthAdjust="spacingAndGlyphs">s</tspan><tspan x="-214.04" textLength="19.71" lengthAdjust="spacingAndGlyphs">e</tspan><tspan x="-194.13"> </tspan><tspan x="-184.21" textLength="20.33" lengthAdjust="spacingAndGlyphs">T</tspan><tspan x="-164.23" textLength="10.32" lengthAdjust="spacingAndGlyphs">i</tspan><tspan x="-154.21" textLength="13.91" lengthAdjust="spacingAndGlyphs">t</tspan><tspan x="-140.23" textLength="14.97" lengthAdjust="spacingAndGlyphs">r</tspan><tspan x="-125.39" textLength="16.83" lengthAdjust="spacingAndGlyphs">a</tspan><tspan x="-106.2" textLength="13.91" lengthAdjust="spacingAndGlyphs">t</tspan><tspan x="-92.28" textLength="10.32" lengthAdjust="spacingAndGlyphs">i</tspan><tspan x="-82.17" textLength="20.1" lengthAdjust="spacingAndGlyphs">o</tspan><tspan x="-61.84" textLength="20.28" lengthAdjust="spacingAndGlyphs">n</tspan><tspan x="-41.59" textLength="12.17" lengthAdjust="spacingAndGlyphs">:</tspan><tspan x="-29.67"> </tspan><tspan x="-19.58" textLength="20.47" lengthAdjust="spacingAndGlyphs">0</tspan><tspan x="1.29" textLength="10.09" lengthAdjust="spacingAndGlyphs">.</tspan><tspan x="13.12" textLength="17.92" lengthAdjust="spacingAndGlyphs">1</tspan><tspan x="32.57" textLength="28.18" lengthAdjust="spacingAndGlyphs">M</tspan><tspan x="61.18"> </tspan><tspan x="71.84" textLength="23.41" lengthAdjust="spacingAndGlyphs">H</tspan><tspan x="96.06" textLength="19.98" lengthAdjust="spacingAndGlyphs">C</tspan><tspan x="117" textLength="10.32" lengthAdjust="spacingAndGlyphs">l</tspan><tspan x="127.14"> </tspan><tspan x="138.86" textLength="21.26" lengthAdjust="spacingAndGlyphs">+</tspan><tspan x="161.74"> </tspan><tspan x="171.83" textLength="20.47" lengthAdjust="spacingAndGlyphs">0</tspan><tspan x="192.69" textLength="10.09" lengthAdjust="spacingAndGlyphs">.</tspan><tspan x="204.52" textLength="17.92" lengthAdjust="spacingAndGlyphs">1</tspan><tspan x="223.97" textLength="28.18" lengthAdjust="spacingAndGlyphs">M</tspan><tspan x="252.58"> </tspan><tspan x="263.25" textLength="23.41" lengthAdjust="spacingAndGlyphs">N</tspan><tspan x="287.51" textLength="16.83" lengthAdjust="spacingAndGlyphs">a</tspan><tspan x="306.99" textLength="24.49" lengthAdjust="spacingAndGlyphs">O</tspan><tspan x="332.13" textLength="23.41" lengthAdjust="spacingAndGlyphs">H</tspan></text>
<circle clip-path="url(#c1)" cx="692.5" cy="429.5" r="10.42" fill="#e74c3c" stroke="#fff" stroke-width="2.08"/>
<rect x="1115" y="57.9" width="171.8" height="63" rx="3.75" fill="#fff" fill-opacity="0.8" stroke="#ccc" stroke-opacity="0.8" stroke-width="2.08"/>
<path d="M1122 74H1160" stroke="#3498db" stroke-opacity="0.4" stroke-width="2.08" stroke-linecap="square"/>
<path d="M1122 103H1160" stroke="#2c3e50" stroke-width="4.17" stroke-linecap="square"/>
<text transform="translate(1173.85 81.25)" y="0" stroke="#000" stroke-width="0.071" stroke-linejoin="round" style="font-family:'Liberation Sans', sans-serif;font-size:19.78px;font-variant-ligatures:none;white-space:pre"><tspan x="0.31" textLength="15.57" lengthAdjust="spacingAndGlyphs">M</tspan><tspan x="16.35" textLength="11.26" lengthAdjust="spacingAndGlyphs">e</tspan><tspan x="28.12" textLength="9.38" lengthAdjust="spacingAndGlyphs">a</tspan><tspan x="39.72" textLength="8.99" lengthAdjust="spacingAndGlyphs">s</tspan><tspan x="49.25" textLength="11.24" lengthAdjust="spacingAndGlyphs">u</tspan><tspan x="60.96" textLength="8" lengthAdjust="spacingAndGlyphs">r</tspan><tspan x="68.32" textLength="11.26" lengthAdjust="spacingAndGlyphs">e</tspan><tspan x="79.86" textLength="11.33" lengthAdjust="spacingAndGlyphs">d</tspan></text>
<text transform="translate(1175.59 109.97)" y="0" stroke="#000" stroke-width="0.052" stroke-linejoin="round" style="font-family:'Liberation Sans', sans-serif;font-size:19.78px;font-variant-ligatures:none;white-space:pre"><tspan x="-0.51" textLength="12.49" lengthAdjust="spacingAndGlyphs">T</tspan><tspan x="11.74" textLength="11.32" lengthAdjust="spacingAndGlyphs">h</tspan><tspan x="23.51" textLength="11.26" lengthAdjust="spacingAndGlyphs">e</tspan><tspan x="35.07" textLength="11.09" lengthAdjust="spacingAndGlyphs">o</tspan><tspan x="46.45" textLength="8" lengthAdjust="spacingAndGlyphs">r</tspan><tspan x="53.81" textLength="11.26" lengthAdjust="spacingAndGlyphs">e</tspan><tspan x="65.29" textLength="6.96" lengthAdjust="spacingAndGlyphs">t</tspan><tspan x="73" textLength="4.26" lengthAdjust="spacingAndGlyphs">i</tspan><tspan x="77.96" textLength="9.41" lengthAdjust="spacingAndGlyphs">c</tspan><tspan x="88.45" textLength="9.38" lengthAdjust="spacingAndGlyphs">a</tspan><tspan x="100" textLength="4.26" lengthAdjust="spacingAndGlyphs">l</tspan></text>
<path clip-path="url(#c2)" d="M143.3 1086.67L143.3 1086.42L145.5 1086.42L147.7 1086.42L149.9 1086.42L152.1 1086.42L154.3 1086.42L156.5 1086.42L158.7 1086.42L160.9 1086.42L163.1 1086.42L165.3 1086.42L167.5 1086.42L169.7 1086.42L171.9 1086.42L174.1 1086.42L176.3 1086.42L178.5 1086.42L180.7 1086.42L182.9 1086.42L185.1 1086.42L187.3 1086.42L189.5 1086.42L191.7 1086.42L193.9 1086.42L196.1 1086.42L198.3 1086.42L200.5 1086.42L202.7 1086.42L204.9 1086.42L207.1 1086.42L209.3 1086.42L211.5 1086.42L213.7 1086.42L215.9 1086.42L218.1 1086.42L220.3 1086.42L222.5 1086.42L224.7 1086.42L226.9 1086.42L229.1 1086.42L231.3 1086.42L233.5 1086.42L235.7 1086.42L237.9 1086.42L240.11 1086.42L242.31 1086.42L244.51 1086.42L246.71 1086.42L248.91 1086.42L251.11 1086.42L253.31 1086.41L255.51 1086.41L257.71 1086.41L259.91 1086.41L262.11 1086.41L264.31 1086.41L266.51 1086.41L268.71 1086.41L270.91 1086.41L273.11 1086.41L275.31 1086.41L277.51 1086.41L279.71 1086.41L281.91 1086.41L284.11 1086.41L286.31 1086.41L288.51 1086.41L290.71 1086.41L292.91 1086.41L295.11 1086.4L297.31 1086.4L299.51 1086.4L301.71 1086.4L303.91 1086.4L306.11 1086.4L308.31 1086.4L310.51 1086.4L312.71 1086.4L314.91 1086.4L317.11 1086.4L319.31 1086.4L321.51 1086.4L323.71 1086.39L325.91 1086.39L328.11 1086.39L330.31 1086.39L332.51 1086.39L334.71 1086.39L336.91 1086.39L339.11 1086.39L341.32 1086.39L343.52 1086.39L345.72 1086.39L347.92 1086.39L350.12 1086.38L352.32 1086.38L354.52 1086.38L356.72 1086.38L358.92 1086.38L361.12 1086.38L363.32 1086.38L365.52 1086.38L367.72 1086.38L369.92 1086.37L372.12 1086.37L374.32 1086.37L376.52 1086.37L378.72 1086.37L380.92 1086.37L383.12 1086.37L385.32 1086.37L387.52 1086.36L389.72 1086.36L391.92 1086.36L394.12 1086.36L396.32 1086.36L398.52 1086.36L400.72 1086.36L402.92 1086.35L405.12 1086.35L407.32 1086.35L409.52 1086.35L411.72 1086.35L413.92 1086.35L416.12 1086.34L418.32 1086.34L420.52 1086.34L422.72 1086.34L424.92 1086.34L427.12 1086.33L429.32 1086.33L431.52 1086.33L433.72 1086.33L435.92 1086.33L438.12 1086.32L440.32 1086.32L442.53 1086.32L444.73 1086.32L446.93 1086.32L449.13 1086.31L451.33 1086.31L453.53 1086.31L455.73 1086.31L457.93 1086.3L460.13 1086.3L462.33 1086.3L464.53 1086.3L466.73 1086.29L468.93 1086.29L471.13 1086.29L473.33 1086.28L475.53 1086.28L477.73 1086.28L479.93 1086.28L482.13 1086.27L484.33 1086.27L486.53 1086.27L488.73 1086.26L490.93 1086.26L493.13 1086.26L495.33 1086.25L497.53 1086.25L499.73 1086.24L501.93 1086.24L504.13 1086.24L506.33 1086.23L508.53 1086.23L510.73 1086.22L512.93 1086.22L515.13 1086.21L517.33 1086.21L519.53 1086.21L521.73 1086.2L523.93 1086.2L526.13 1086.19L528.33 1086.19L530.53 1086.18L532.73 1086.17L534.93 1086.17L537.13 1086.16L539.33 1086.16L541.54 1086.15L543.74 1086.14L545.94 1086.14L548.14 1086.13L550.34 1086.12L552.54 1086.12L554.74 1086.11L556.94 1086.1L559.14 1086.09L561.34 1086.08L563.54 1086.07L565.74 1086.07L567.94 1086.06L570.14 1086.05L572.34 1086.04L574.54 1086.03L576.74 1086.01L578.94 1086L581.14 1085.99L583.34 1085.98L585.54 1085.97L587.74 1085.95L589.94 1085.94L592.14 1085.93L594.34 1085.91L596.54 1085.89L598.74 1085.88L600.94 1085.86L603.14 1085.84L605.34 1085.82L607.54 1085.8L609.74 1085.78L611.94 1085.76L614.14 1085.74L616.34 1085.71L618.54 1085.68L620.74 1085.66L622.94 1085.63L625.14 1085.59L627.34 1085.56L629.54 1085.52L631.74 1085.48L633.94 1085.44L636.14 1085.39L638.34 1085.35L640.54 1085.29L642.75 1085.23L644.95 1085.17L647.15 1085.1L649.35 1085.02L651.55 1084.94L653.75 1084.84L655.95 1084.73L658.15 1084.61L660.35 1084.47L662.55 1084.32L664.75 1084.13L666.95 1083.92L669.15 1083.66L671.35 1083.34L673.55 1082.96L675.75 1082.46L677.95 1081.82L680.15 1080.93L682.35 1079.63L684.55 1077.53L686.75 1073.52L688.95 1061.74L691.15 856.13L693.35 856.19L695.55 1061.87L697.75 1073.64L699.95 1077.65L702.15 1079.75L704.35 1081.05L706.55 1081.94L708.75 1082.59L710.95 1083.08L713.15 1083.47L715.35 1083.78L717.55 1084.04L719.75 1084.26L721.95 1084.44L724.15 1084.6L726.35 1084.74L728.55 1084.86L730.75 1084.96L732.95 1085.06L735.15 1085.15L737.35 1085.22L739.55 1085.29L741.75 1085.36L743.96 1085.42L746.16 1085.47L748.36 1085.52L750.56 1085.56L752.76 1085.61L754.96 1085.65L757.16 1085.68L759.36 1085.72L761.56 1085.75L763.76 1085.78L765.96 1085.81L768.16 1085.83L770.36 1085.86L772.56 1085.88L774.76 1085.91L776.96 1085.93L779.16 1085.95L781.36 1085.97L783.56 1085.99L785.76 1086L787.96 1086.02L790.16 1086.04L792.36 1086.05L794.56 1086.06L796.76 1086.08L798.96 1086.09L801.16 1086.1L803.36 1086.12L805.56 1086.13L807.76 1086.14L809.96 1086.15L812.16 1086.16L814.36 1086.17L816.56 1086.18L818.76 1086.19L820.96 1086.2L823.16 1086.21L825.36 1086.22L827.56 1086.23L829.76 1086.23L831.96 1086.24L834.16 1086.25L836.36 1086.26L838.56 1086.26L840.76 1086.27L842.96 1086.28L845.17 1086.28L847.37 1086.29L849.57 1086.29L851.77 1086.3L853.97 1086.31L856.17 1086.31L858.37 1086.32L860.57 1086.32L862.77 1086.33L864.97 1086.33L867.17 1086.34L869.37 1086.34L871.57 1086.35L873.77 1086.35L875.97 1086.36L878.17 1086.36L880.37 1086.36L882.57 1086.37L884.77 1086.37L886.97 1086.38L889.17 1086.38L891.37 1086.38L893.57 1086.39L895.77 1086.39L897.97 1086.39L900.17 1086.4L902.37 1086.4L904.57 1086.4L906.77 1086.41L908.97 1086.41L911.17 1086.41L913.37 1086.42L915.57 1086.42L917.77 1086.42L919.97 1086.43L922.17 1086.43L924.37 1086.43L926.57 1086.43L928.77 1086.44L930.97 1086.44L933.17 1086.44L935.37 1086.44L937.57 1086.45L939.77 1086.45L941.97 1086.45L944.18 1086.45L946.38 1086.46L948.58 1086.46L950.78 1086.46L952.98 1086.46L955.18 1086.46L957.38 1086.47L959.58 1086.47L961.78 1086.47L963.98 1086.47L966.18 1086.47L968.38 1086.48L970.58 1086.48L972.78 1086.48L974.98 1086.48L977.18 1086.48L979.38 1086.49L981.58 1086.49L983.78 1086.49L985.98 1086.49L988.18 1086.49L990.38 1086.49L992.58 1086.49L994.78 1086.5L996.98 1086.5L999.18 1086.5L1001.38 1086.5L1003.58 1086.5L1005.78 1086.5L1007.98 1086.51L1010.18 1086.51L1012.38 1086.51L1014.58 1086.51L1016.78 1086.51L1018.98 1086.51L1021.18 1086.51L1023.38 1086.51L1025.58 1086.52L1027.78 1086.52L1029.98 1086.52L1032.18 1086.52L1034.38 1086.52L1036.58 1086.52L1038.78 1086.52L1040.98 1086.52L1043.18 1086.53L1045.39 1086.53L1047.59 1086.53L1049.79 1086.53L1051.99 1086.53L1054.19 1086.53L1056.39 1086.53L1058.59 1086.53L1060.79 1086.53L1062.99 1086.54L1065.19 1086.54L1067.39 1086.54L1069.59 1086.54L1071.79 1086.54L1073.99 1086.54L1076.19 1086.54L1078.39 1086.54L1080.59 1086.54L1082.79 1086.54L1084.99 1086.55L1087.19 1086.55L1089.39 1086.55L1091.59 1086.55L1093.79 1086.55L1095.99 1086.55L1098.19 1086.55L1100.39 1086.55L1102.59 1086.55L1104.79 1086.55L1106.99 1086.55L1109.19 1086.55L1111.39 1086.56L1113.59 1086.56L1115.79 1086.56L1117.99 1086.56L1120.19 1086.56L1122.39 1086.56L1124.59 1086.56L1126.79 1086.56L1128.99 1086.56L1131.19 1086.56L1133.39 1086.56L1135.59 1086.56L1137.79 1086.56L1139.99 1086.56L1142.19 1086.57L1144.39 1086.57L1146.6 1086.57L1148.8 1086.57L1151 1086.57L1153.2 1086.57L1155.4 1086.57L1157.6 1086.57L1159.8 1086.57L1162 1086.57L1164.2 1086.57L1166.4 1086.57L1168.6 1086.57L1170.8 1086.57L1173 1086.57L1175.2 1086.57L1177.4 1086.58L1179.6 1086.58L1181.8 1086.58L1184 1086.58L1186.2 1086.58L1188.4 1086.58L1190.6 1086.58L1192.8 1086.58L1195 1086.58L1197.2 1086.58L1199.4 1086.58L1201.6 1086.58L1203.8 1086.58L1206 1086.58L1208.2 1086.58L1210.4 1086.58L1212.6 1086.58L1214.8 1086.58L1217 1086.59L1219.2 1086.59L1221.4 1086.59L1223.6 1086.59L1225.8 1086.59L1228 1086.59L1230.2 1086.59L1232.4 1086.59L1234.6 1086.59L1236.8 1086.59L1239 1086.59L1241.2 1086.59L1241.2 1086.67L1239 1086.67L1236.8 1086.67L1234.6 1086.67L1232.4 1086.67L1230.2 1086.67L1228 1086.67L1225.8 1086.67L1223.6 1086.67L1221.4 1086.67L1219.2 1086.67L1217 1086.67L1214.8 1086.67L1212.6 1086.67L1210.4 1086.67L1208.2 1086.67L1206 1086.67L1203.8 1086.67L1201.6 1086.67L1199.4 1086.67L1197.2 1086.67L1195 1086.67L1192.8 1086.67L1190.6 1086.67L1188.4 1086.67L1186.2 1086.67L1184 1086.67L1181.8 1086.67L1179.6 1086.67L1177.4 1086.67L1175.2 1086.67L1173 1086.67L1170.8 1086.67L1168.6 1086.67L1166.4 1086.67L1164.2 1086.67L1162 1086.67L1159.8 1086.67L1157.6 1086.67L1155.4 1086.67L1153.2 1086.67L1151 1086.67L1148.8 1086.67L1146.6 1086.67L1144.39 1086.67L1142.19 1086.67L1139.99 1086.67L1137.79 1086.67L1135.59 1086.67L1133.39 1086.67L1131.19 1086.67L1128.99 1086.67L1126.79 1086.67L1124.59 1086.67L1122.39 1086.67L1120.19 1086.67L1117.99 1086.67L1115.79 1086.67L1113.59 1086.67L1111.39 1086.67L1109.19 1086.67L1106.99 1086.67L1104.79 1086.67L1102.59 1086.67L1100.39 1086.67L1098.19 1086.67L1095.99 1086.67L1093.79 1086.67L1091.59 1086.67L1089.39 1086.67L1087.19 1086.67L1084.99 1086.67L1082.79 1086.67L1080.59 1086.67L1078.39 1086.67L1076.19 1086.67L1073.99 1086.67L1071.79 1086.67L1069.59 1086.67L1067.39 1086.67L1065.19 1086.67L1062.99 1086.67L1060.79 1086.67L1058.59 1086.67L1056.39 1086.67L1054.19 1086.67L1051.99 1086.67L1049.79 1086.67L1047.59 1086.67L1045.39 1086.67L1043.18 1086.67L1040.98 1086.67L1038.78 1086.67L1036.58 1086.67L1034.38 1086.67L1032.18 1086.67L1029.98 1086.67L1027.78 1086.67L1025.58 1086.67L1023.38 1086.67L1021.18 1086.67L1018.98 1086.67L1016.78 1086.67L1014.58 1086.67L1012.38 1086.67L1010.18 1086.67L1007.98 1086.67L1005.78 1086.67L1003.58 1086.67L1001.38 1086.67L999.18 1086.67L996.98 1086.67L994.78 1086.67L992.58 1086.67L990.38 1086.67L988.18 1086.67L985.98 1086.67L983.78 1086.67L981.58 1086.67L979.38 1086.67L977.18 1086.67L974.98 1086.67L972.78 1086.67L970.58 1086.67L968.38 1086.67L966.18 1086.67L963.98 1086.67L961.78 1086.67L959.58 1086.67L957.38 1086.67L955.18 1086.67L952.98 1086.67L950.78 1086.67L948.58 1086.67L946.38 1086.67L944.18 1086.67L941.97 1086.67L939.77 1086.67L937.57 1086.67L935.37 1086.67L933.17 1086.67L930.97 1086.67L928.77 1086.67L926.57 1086.67L924.37 1086.67L922.17 1086.67L919.97 1086.67L917.77 1086.67L915.57 1086.67L913.37 1086.67L911.17 1086.67L908.97 1086.67L906.77 1086.67L904.57 1086.67L902.37 1086.67L900.17 1086.67L897.97 1086.67L895.77 1086.67L893.57 1086.67L891.37 1086.67L889.17 1086.67L886.97 1086.67L884.77 1086.67L882.57 1086.67L880.37 1086.67L878.17 1086.67L875.97 1086.67L873.77 1086.67L871.57 1086.67L869.37 1086.67L867.17 1086.67L864.97 1086.67L862.77 1086.67L860.57 1086.67L858.37 1086.67L856.17 1086.67L853.97 1086.67L851.77 1086.67L849.57 1086.67L847.37 1086.67L845.17 1086.67L842.96 1086.67L840.76 1086.67L838.56 1086.67L836.36 1086.67L834.16 1086.67L831.96 1086.67L829.76 1086.67L827.56 1086.67L825.36 1086.67L823.16 1086.67L820.96 1086.67L818.76 1086.67L816.56 1086.67L814.36 1086.67L812.16 1086.67L809.96 1086.67L807.76 1086.67L805.56 1086.67L803.36 1086.67L801.16 1086.67L798.96 1086.67L796.76 1086.67L794.56 1086.67L792.36 1086.67L790.16 1086.67L787.96 1086.67L785.76 1086.67L783.56 1086.67L781.36 1086.67L779.16 1086.67L776.96 1086.67L774.76 1086.67L772.56 1086.67L770.36 1086.67L768.16 1086.67L765.96 1086.67L763.76 1086.67L761.56 1086.67L759.36 1086.67L757.16 1086.67L754.96 1086.67L752.76 1086.67L750.56 1086.67L748.36 1086.67L746.16 1086.67L743.96 1086.67L741.75 1086.67L739.55 1086.67L737.35 1086.67L735.15 1086.67L732.95 1086.67L730.75 1086.67L728.55 1086.67L726.35 1086.67L724.15 1086.67L721.95 1086.67L719.75 1086.67L717.55 1086.67L715.35 1086.67L713.15 1086.67L710.95 1086.67L708.75 1086.67L706.55 1086.67L704.35 1086.67L702.15 1086.67L699.95 1086.67L697.75 1086.67L695.55 1086.67L693.35 1086.67L691.15 1086.67L688.95 1086.67L686.75 1086.67L684.55 1086.67L682.35 1086.67L680.15 1086.67L677.95 1086.67L675.75 1086.67L673.55 1086.67L671.35 1086.67L669.15 1086.67L666.95 1086.67L664.75 1086.67L662.55 1086.67L660.35 1086.67L658.15 1086.67L655.95 1086.67L653.75 1086.67L651.55 1086.67L649.35 1086.67L647.15 1086.67L644.95 1086.67L642.75 1086.67L640.54 1086.67L638.34 1086.67L636.14 1086.67L633.94 1086.67L631.74 1086.67L629.54 1086.67L627.34 1086.67L625.14 1086.67L622.94 1086.67L620.74 1086.67L618.54 1086.67L616.34 1086.67L614.14 1086.67L611.94 1086.67L609.74 1086.67L607.54 1086.67L605.34 1086.67L603.14 1086.67L600.94 1086.67L598.74 1086.67L596.54 1086.67L594.34 1086.67L592.14 1086.67L589.94 1086.67L587.74 1086.67L585.54 1086.67L583.34 1086.67L581.14 1086.67L578.94 1086.67L576.74 1086.67L574.54 1086.67L572.34 1086.67L570.14 1086.67L567.94 1086.67L565.74 1086.67L563.54 1086.67L561.34 1086.67L559.14 1086.67L556.94 1086.67L554.74 1086.67L552.54 1086.67L550.34 1086.67L548.14 1086.67L545.94 1086.67L543.74 1086.67L541.54 1086.67L539.33 1086.67L537.13 1086.67L534.93 1086.67L532.73 1086.67L530.53 1086.67L528.33 1086.67L526.13 1086.67L523.93 1086.67L521.73 1086.67L519.53 1086.67L517.33 1086.67L515.13 1086.67L512.93 1086.67L510.73 1086.67L508.53 1086.67L506.33 1086.67L504.13 1086.67L501.93 1086.67L499.73 1086.67L497.53 1086.67L495.33 1086.67L493.13 1086.67L490.93 1086.67L488.73 1086.67L486.53 1086.67L484.33 1086.67L482.13 1086.67L479.93 1086.67L477.73 1086.67L475.53 1086.67L473.33 1086.67L471.13 1086.67L468.93 1086.67L466.73 1086.67L464.53 1086.67L462.33 1086.67L460.13 1086.67L457.93 1086.67L455.73 1086.67L453.53 1086.67L451.33 1086.67L449.13 1086.67L446.93 1086.67L444.73 1086.67L442.53 1086.67L440.32 1086.67L438.12 1086.67L435.92 1086.67L433.72 1086.67L431.52 1086.67L429.32 1086.67L427.12 1086.67L424.92 1086.67L422.72 1086.67L420.52 1086.67L418.32 1086.67L416.12 1086.67L413.92 1086.67L411.72 1086.67L409.52 1086.67L407.32 1086.67L405.12 1086.67L402.92 1086.67L400.72 1086.67L398.52 1086.67L396.32 1086.67L394.12 1086.67L391.92 1086.67L389.72 1086.67L387.52 1086.67L385.32 1086.67L383.12 1086.67L380.92 1086.67L378.72 1086.67L376.52 1086.67L374.32 1086.67L372.12 1086.67L369.92 1086.67L367.72 1086.67L365.52 1086.67L363.32 1086.67L361.12 1086.67L358.92 1086.67L356.72 1086.67L354.52 1086.67L352.32 1086.67L350.12 1086.67L347.92 1086.67L345.72 1086.67L343.52 1086.67L341.32 1086.67L339.11 1086.67L336.91 1086.67L334.71 1086.67L332.51 1086.67L330.31 1086.67L328.11 1086.67L325.91 1086.67L323.71 1086.67L321.51 1086.67L319.31 1086.67L317.11 1086.67L314.91 1086.67L312.71 1086.67L310.51 1086.67L308.31 1086.67L306.11 1086.67L303.91 1086.67L301.71 1086.67L299.51 1086.67L297.31 1086.67L295.11 1086.67L292.91 1086.67L290.71 1086.67L288.51 1086.67L286.31 1086.67L284.11 1086.67L281.91 1086.67L279.71 1086.67L277.51 1086.67L275.31 1086.67L273.11 1086.67L270.91 1086.67L268.71 1086.67L266.51 1086.67L264.31 1086.67L262.11 1086.67L259.91 1086.67L257.71 1086.67L255.51 1086.67L253.31 1086.67L251.11 1086.67L248.91 1086.67L246.71 1086.67L244.51 1086.67L242.31 1086.67L240.11 1086.67L237.9 1086.67L235.7 1086.67L233.5 1086.67L231.3 1086.67L229.1 1086.67L226.9 1086.67L224.7 1086.67L222.5 1086.67L220.3 1086.67L218.1 1086.67L215.9 1086.67L213.7 1086.67L211.5 1086.67L209.3 1086.67L207.1 1086.67L204.9 1086.67L202.7 1086.67L200.5 1086.67L198.3 1086.67L196.1 1086.67L193.9 1086.67L191.7 1086.67L189.5 1086.67L187.3 1086.67L185.1 1086.67L182.9 1086.67L180.7 1086.67L178.5 1086.67L176.3 1086.67L174.1 1086.67L171.9 1086.67L169.7 1086.67L167.5 1086.67L165.3 1086.67L163.1 1086.67L160.9 1086.67L158.7 1086.67L156.5 1086.67L154.3 1086.67L152.1 1086.67L149.9 1086.67L147.7 1086.67L145.5 1086.67L143.3 1086.67Z" fill="#9b59b6" fill-opacity="0.1" stroke="#9b59b6" stroke-opacity="0.1" stroke-width="2.08" stroke-linejoin="round"/>
<path d="M143 1098V1105" stroke="#000" stroke-opacity="0.8333" stroke-width="2"/>
<path d="M363 1098V1105" stroke="#000" stroke-opacity="0.8333" stroke-width="2"/>
<path d="M582 1098V1105" stroke="#000" stroke-opacity="0.8333" stroke-width="2"/>
<path d="M802 1098V1105" stroke="#000" stroke-opacity="0.8333" stroke-width="2"/>
<path d="M1022 1098V1105" stroke="#000" stroke-opacity="0.8333" stroke-width="2"/>
<path d="M1241 1098V1105" stroke="#000" stroke-opacity="0.8333" stroke-width="2"/>
<text transform="translate(143.5 1128.89)" y="0" stroke="#000" stroke-width="0.244" stroke-linejoin="round" style="font-family:'Liberation Sans', sans-serif;font-size:21.98px;font-variant-ligatures:none;white-space:pre"><tspan x="-6.11" textLength="12.21" lengthAdjust="spacingAndGlyphs">0</tspan></text>
<text transform="translate(362.67 1128.39)" y="0" stroke="#000" stroke-width="0.212" stroke-linejoin="round" style="font-family:'Liberation Sans', sans-serif;font-size:21.98px;font-variant-ligatures:none;white-space:pre"><tspan x="-12.56" textLength="11.67" lengthAdjust="spacingAndGlyphs">1</tspan><tspan x="0.52" textLength="12.21" lengthAdjust="spacingAndGlyphs">0</tspan></text>
<text transform="translate(582.92 1128.93)" y="0" stroke="#000" stroke-width="0.183" stroke-linejoin="round" style="font-family:'Liberation Sans', sans-serif;font-size:21.98px;font-variant-ligatures:none;white-space:pre"><tspan x="-12.79" textLength="11.77" lengthAdjust="spacingAndGlyphs">2</tspan><tspan x="0.52" textLength="12.21" lengthAdjust="spacingAndGlyphs">0</tspan></text>
<text transform="translate(802.18 1128.81)" y="0" stroke="#000" stroke-width="0.141" stroke-linejoin="round" style="font-family:'Liberation Sans', sans-serif;font-size:21.98px;font-variant-ligatures:none;white-space:pre"><tspan x="-12.47" textLength="11.73" lengthAdjust="spacingAndGlyphs">3</tspan><tspan x="0.52" textLength="12.21" lengthAdjust="spacingAndGlyphs">0</tspan></text>
<text transform="translate(1021.11 1128.81)" y="0" stroke="#000" stroke-width="0.26" stroke-linejoin="round" style="font-family:'Liberation Sans', sans-serif;font-size:21.98px;font-variant-ligatures:none;white-space:pre"><tspan x="-12.74" textLength="12.22" lengthAdjust="spacingAndGlyphs">4</tspan><tspan x="0.52" textLength="12.21" lengthAdjust="spacingAndGlyphs">0</tspan></text>
<text transform="translate(1241.98 1128.35)" y="0" stroke="#000" stroke-width="0.15" stroke-linejoin="round" style="font-family:'Liberation Sans', sans-serif;font-size:21.98px;font-variant-ligatures:none;white-space:pre"><tspan x="-12.48" textLength="11.53" lengthAdjust="spacingAndGlyphs">5</tspan><tspan x="0.52" textLength="12.21" lengthAdjust="spacingAndGlyphs">0</tspan></text>
<text transform="translate(691.58 1161.07)" y="0" stroke="#000" stroke-width="0.086" stroke-linejoin="round" style="font-family:'Liberation Sans', sans-serif;font-size:26.38px;font-variant-ligatures:none;white-space:pre"><tspan x="-162.63" textLength="16.92" lengthAdjust="spacingAndGlyphs">V</tspan><tspan x="-147.29" textLength="14.78" lengthAdjust="spacingAndGlyphs">o</tspan><tspan x="-131.62" textLength="5.68" lengthAdjust="spacingAndGlyphs">l</tspan><tspan x="-124.94" textLength="14.99" lengthAdjust="spacingAndGlyphs">u</tspan><tspan x="-109.09" textLength="23.73" lengthAdjust="spacingAndGlyphs">m</tspan><tspan x="-84.88" textLength="15.02" lengthAdjust="spacingAndGlyphs">e</tspan><tspan x="-69.73"> </tspan><tspan x="-61.36" textLength="17.83" lengthAdjust="spacingAndGlyphs">N</tspan><tspan x="-42.54" textLength="12.5" lengthAdjust="spacingAndGlyphs">a</tspan><tspan x="-27.53" textLength="19.22" lengthAdjust="spacingAndGlyphs">O</tspan><tspan x="-7.67" textLength="17.96" lengthAdjust="spacingAndGlyphs">H</tspan><tspan x="10.71"> </tspan><tspan x="19.21" textLength="12.5" lengthAdjust="spacingAndGlyphs">a</tspan><tspan x="34.22" textLength="15.11" lengthAdjust="spacingAndGlyphs">d</tspan><tspan x="50.09" textLength="15.11" lengthAdjust="spacingAndGlyphs">d</tspan><tspan x="65.95" textLength="15.02" lengthAdjust="spacingAndGlyphs">e</tspan><tspan x="81.34" textLength="15.11" lengthAdjust="spacingAndGlyphs">d</tspan><tspan x="96.97"> </tspan><tspan x="105.75" textLength="7.04" lengthAdjust="spacingAndGlyphs">(</tspan><tspan x="115.05" textLength="23.73" lengthAdjust="spacingAndGlyphs">m</tspan><tspan x="139.37" textLength="14.3" lengthAdjust="spacingAndGlyphs">L</tspan><tspan x="154.83" textLength="7.04" lengthAdjust="spacingAndGlyphs">)</tspan></text>
<path d="M81 1087H88" stroke="#000" stroke-opacity="0.8333" stroke-width="2"/>
<path d="M81 1015H88" stroke="#000" stroke-opacity="0.8333" stroke-width="2"/>
<path d="M81 944H88" stroke="#000" stroke-opacity="0.8333" stroke-width="2"/>
<path d="M81 873H88" stroke="#000" stroke-opacity="0.8333" stroke-width="2"/>
<text transform="translate(74.27 1094.87)" y="0" stroke="#000" stroke-width="0.244" stroke-linejoin="round" style="font-family:'Liberation Sans', sans-serif;font-size:21.98px;font-variant-ligatures:none;white-space:pre"><tspan x="-12.74" textLength="12.21" lengthAdjust="spacingAndGlyphs">0</tspan></text>
<text transform="translate(73.99 1022.06)" y="0" stroke="#000" stroke-width="0.212" stroke-linejoin="round" style="font-family:'Liberation Sans', sans-serif;font-size:21.98px;font-variant-ligatures:none;white-space:pre"><tspan x="-25.82" textLength="11.67" lengthAdjust="spacingAndGlyphs">1</tspan><tspan x="-12.74" textLength="12.21" lengthAdjust="spacingAndGlyphs">0</tspan></text>
<text transform="translate(74.28 951.3)" y="0" stroke="#000" stroke-width="0.183" stroke-linejoin="round" style="font-family:'Liberation Sans', sans-serif;font-size:21.98px;font-variant-ligatures:none;white-space:pre"><tspan x="-26.05" textLength="11.77" lengthAdjust="spacingAndGlyphs">2</tspan><tspan x="-12.74" textLength="12.21" lengthAdjust="spacingAndGlyphs">0</tspan></text>
<text transform="translate(74.43 880.87)" y="0" stroke="#000" stroke-width="0.141" stroke-linejoin="round" style="font-family:'Liberation Sans', sans-serif;font-size:21.98px;font-variant-ligatures:none;white-space:pre"><tspan x="-25.73" textLength="11.73" lengthAdjust="spacingAndGlyphs">3</tspan><tspan x="-12.74" textLength="12.21" lengthAdjust="spacingAndGlyphs">0</tspan></text>
<text transform="translate(34.04 973.54) rotate(-90)" y="0" style="font-family:'Liberation Sans', sans-serif;font-size:26.38px;font-variant-ligatures:none;white-space:pre"><tspan x="-45.73" textLength="15.11" lengthAdjust="spacingAndGlyphs">d</tspan><tspan x="-29.58" textLength="15.13" lengthAdjust="spacingAndGlyphs">p</tspan><tspan x="-13.82" textLength="17.96" lengthAdjust="spacingAndGlyphs">H</tspan><tspan x="4.57" textLength="8.42" lengthAdjust="spacingAndGlyphs">/</tspan><tspan x="13.23" textLength="15.11" lengthAdjust="spacingAndGlyphs">d</tspan><tspan x="28.94" textLength="16.92" lengthAdjust="spacingAndGlyphs">V</tspan></text>
<path clip-path="url(#c2)" d="M143.3 1086.42L145.5 1086.42L147.7 1086.42L149.9 1086.42L152.1 1086.42L154.3 1086.42L156.5 1086.42L158.7 1086.42L160.9 1086.42L163.1 1086.42L165.3 1086.42L167.5 1086.42L169.7 1086.42L171.9 1086.42L174.1 1086.42L176.3 1086.42L178.5 1086.42L180.7 1086.42L182.9 1086.42L185.1 1086.42L187.3 1086.42L189.5 1086.42L191.7 1086.42L193.9 1086.42L196.1 1086.42L198.3 1086.42L200.5 1086.42L202.7 1086.42L204.9 1086.42L207.1 1086.42L209.3 1086.42L211.5 1086.42L213.7 1086.42L215.9 1086.42L218.1 1086.42L220.3 1086.42L222.5 1086.42L224.7 1086.42L226.9 1086.42L229.1 1086.42L231.3 1086.42L233.5 1086.42L235.7 1086.42L237.9 1086.42L240.11 1086.42L242.31 1086.42L244.51 1086.42L246.71 1086.42L248.91 1086.42L251.11 1086.42L253.31 1086.41L255.51 1086.41L257.71 1086.41L259.91 1086.41L262.11 1086.41L264.31 1086.41L266.51 1086.41L268.71 1086.41L270.91 1086.41L273.11 1086.41L275.31 1086.41L277.51 1086.41L279.71 1086.41L281.91 1086.41L284.11 1086.41L286.31 1086.41L288.51 1086.41L290.71 1086.41L292.91 1086.41L295.11 1086.4L297.31 1086.4L299.51 1086.4L301.71 1086.4L303.91 1086.4L306.11 1086.4L308.31 1086.4L310.51 1086.4L312.71 1086.4L314.91 1086.4L317.11 1086.4L319.31 1086.4L321.51 1086.4L323.71 1086.39L325.91 1086.39L328.11 1086.39L330.31 1086.39L332.51 1086.39L334.71 1086.39L336.91 1086.39L339.11 1086.39L341.32 1086.39L343.52 1086.39L345.72 1086.39L347.92 1086.39L350.12 1086.38L352.32 1086.38L354.52 1086.38L356.72 1086.38L358.92 1086.38L361.12 1086.38L363.32 1086.38L365.52 1086.38L367.72 1086.38L369.92 1086.37L372.12 1086.37L374.32 1086.37L376.52 1086.37L378.72 1086.37L380.92 1086.37L383.12 1086.37L385.32 1086.37L387.52 1086.36L389.72 1086.36L391.92 1086.36L394.12 1086.36L396.32 1086.36L398.52 1086.36L400.72 1086.36L402.92 1086.35L405.12 1086.35L407.32 1086.35L409.52 1086.35L411.72 1086.35L413.92 1086.35L416.12 1086.34L418.32 1086.34L420.52 1086.34L422.72 1086.34L424.92 1086.34L427.12 1086.33L429.32 1086.33L431.52 1086.33L433.72 1086.33L435.92 1086.33L438.12 1086.32L440.32 1086.32L442.53 1086.32L444.73 1086.32L446.93 1086.32L449.13 1086.31L451.33 1086.31L453.53 1086.31L455.73 1086.31L457.93 1086.3L460.13 1086.3L462.33 1086.3L464.53 1086.3L466.73 1086.29L468.93 1086.29L471.13 1086.29L473.33 1086.28L475.53 1086.28L477.73 1086.28L479.93 1086.28L482.13 1086.27L484.33 1086.27L486.53 1086.27L488.73 1086.26L490.93 1086.26L493.13 1086.26L495.33 1086.25L497.53 1086.25L499.73 1086.24L501.93 1086.24L504.13 1086.24L506.33 1086.23L508.53 1086.23L510.73 1086.22L512.93 1086.22L515.13 1086.21L517.33 1086.21L519.53 1086.21L521.73 1086.2L523.93 1086.2L526.13 1086.19L528.33 1086.19L530.53 1086.18L532.73 1086.17L534.93 1086.17L537.13 1086.16L539.33 1086.16L541.54 1086.15L543.74 1086.14L545.94 1086.14L548.14 1086.13L550.34 1086.12L552.54 1086.12L554.74 1086.11L556.94 1086.1L559.14 1086.09L561.34 1086.08L563.54 1086.07L565.74 1086.07L567.94 1086.06L570.14 1086.05L572.34 1086.04L574.54 1086.03L576.74 1086.01L578.94 1086L581.14 1085.99L583.34 1085.98L585.54 1085.97L587.74 1085.95L589.94 1085.94L592.14 1085.93L594.34 1085.91L596.54 1085.89L598.74 1085.88L600.94 1085.86L603.14 1085.84L605.34 1085.82L607.54 1085.8L609.74 1085.78L611.94 1085.76L614.14 1085.74L616.34 1085.71L618.54 1085.68L620.74 1085.66L622.94 1085.63L625.14 1085.59L627.34 1085.56L629.54 1085.52L631.74 1085.48L633.94 1085.44L636.14 1085.39L638.34 1085.35L640.54 1085.29L642.75 1085.23L644.95 1085.17L647.15 1085.1L649.35 1085.02L651.55 1084.94L653.75 1084.84L655.95 1084.73L658.15 1084.61L660.35 1084.47L662.55 1084.32L664.75 1084.13L666.95 1083.92L669.15 1083.66L671.35 1083.34L673.55 1082.96L675.75 1082.46L677.95 1081.82L680.15 1080.93L682.35 1079.63L684.55 1077.53L686.75 1073.52L688.95 1061.74L691.15 856.13L693.35 856.19L695.55 1061.87L697.75 1073.64L699.95 1077.65L702.15 1079.75L704.35 1081.05L706.55 1081.94L708.75 1082.59L710.95 1083.08L713.15 1083.47L715.35 1083.78L717.55 1084.04L719.75 1084.26L721.95 1084.44L724.15 1084.6L726.35 1084.74L728.55 1084.86L730.75 1084.96L732.95 1085.06L735.15 1085.15L737.35 1085.22L739.55 1085.29L741.75 1085.36L743.96 1085.42L746.16 1085.47L748.36 1085.52L750.56 1085.56L752.76 1085.61L754.96 1085.65L757.16 1085.68L759.36 1085.72L761.56 1085.75L763.76 1085.78L765.96 1085.81L768.16 1085.83L770.36 1085.86L772.56 1085.88L774.76 1085.91L776.96 1085.93L779.16 1085.95L781.36 1085.97L783.56 1085.99L785.76 1086L787.96 1086.02L790.16 1086.04L792.36 1086.05L794.56 1086.06L796.76 1086.08L798.96 1086.09L801.16 1086.1L803.36 1086.12L805.56 1086.13L807.76 1086.14L809.96 1086.15L812.16 1086.16L814.36 1086.17L816.56 1086.18L818.76 1086.19L820.96 1086.2L823.16 1086.21L825.36 1086.22L827.56 1086.23L829.76 1086.23L831.96 1086.24L834.16 1086.25L836.36 1086.26L838.56 1086.26L840.76 1086.27L842.96 1086.28L845.17 1086.28L847.37 1086.29L849.57 1086.29L851.77 1086.3L853.97 1086.31L856.17 1086.31L858.37 1086.32L860.57 1086.32L862.77 1086.33L864.97 1086.33L867.17 1086.34L869.37 1086.34L871.57 1086.35L873.77 1086.35L875.97 1086.36L878.17 1086.36L880.37 1086.36L882.57 1086.37L884.77 1086.37L886.97 1086.38L889.17 1086.38L891.37 1086.38L893.57 1086.39L895.77 1086.39L897.97 1086.39L900.17 1086.4L902.37 1086.4L904.57 1086.4L906.77 1086.41L908.97 1086.41L911.17 1086.41L913.37 1086.42L915.57 1086.42L917.77 1086.42L919.97 1086.43L922.17 1086.43L924.37 1086.43L926.57 1086.43L928.77 1086.44L930.97 1086.44L933.17 1086.44L935.37 1086.44L937.57 1086.45L939.77 1086.45L941.97 1086.45L944.18 1086.45L946.38 1086.46L948.58 1086.46L950.78 1086.46L952.98 1086.46L955.18 1086.46L957.38 1086.47L959.58 1086.47L961.78 1086.47L963.98 1086.47L966.18 1086.47L968.38 1086.48L970.58 1086.48L972.78 1086.48L974.98 1086.48L977.18 1086.48L979.38 1086.49L981.58 1086.49L983.78 1086.49L985.98 1086.49L988.18 1086.49L990.38 1086.49L992.58 1086.49L994.78 1086.5L996.98 1086.5L999.18 1086.5L1001.38 1086.5L1003.58 1086.5L1005.78 1086.5L1007.98 1086.51L1010.18 1086.51L1012.38 1086.51L1014.58 1086.51L1016.78 1086.51L1018.98 1086.51L1021.18 1086.51L1023.38 1086.51L1025.58 1086.52L1027.78 1086.52L1029.98 1086.52L1032.18 1086.52L1034.38 1086.52L1036.58 1086.52L1038.78 1086.52L1040.98 1086.52L1043.18 1086.53L1045.39 1086.53L1047.59 1086.53L1049.79 1086.53L1051.99 1086.53L1054.19 1086.53L1056.39 1086.53L1058.59 1086.53L1060.79 1086.53L1062.99 1086.54L1065.19 1086.54L1067.39 1086.54L1069.59 1086.54L1071.79 1086.54L1073.99 1086.54L1076.19 1086.54L1078.39 1086.54L1080.59 1086.54L1082.79 1086.54L1084.99 1086.55L1087.19 1086.55L1089.39 1086.55L1091.59 1086.55L1093.79 1086.55L1095.99 1086.55L1098.19 1086.55L1100.39 1086.55L1102.59 1086.55L1104.79 1086.55L1106.99 1086.55L1109.19 1086.55L1111.39 1086.56L1113.59 1086.56L1115.79 1086.56L1117.99 1086.56L1120.19 1086.56L1122.39 1086.56L1124.59 1086.56L1126.79 1086.56L1128.99 1086.56L1131.19 1086.56L1133.39 1086.56L1135.59 1086.56L1137.79 1086.56L1139.99 1086.56L1142.19 1086.57L1144.39 1086.57L1146.6 1086.57L1148.8 1086.57L1151 1086.57L1153.2 1086.57L1155.4 1086.57L1157.6 1086.57L1159.8 1086.57L1162 1086.57L1164.2 1086.57L1166.4 1086.57L1168.6 1086.57L1170.8 1086.57L1173 1086.57L1175.2 1086.57L1177.4 1086.58L1179.6 1086.58L1181.8 1086.58L1184 1086.58L1186.2 1086.58L1188.4 1086.58L1190.6 1086.58L1192.8 1086.58L1195 1086.58L1197.2 1086.58L1199.4 1086.58L1201.6 1086.58L1203.8 1086.58L1206 1086.58L1208.2 1086.58L1210.4 1086.58L1212.6 1086.58L1214.8 1086.58L1217 1086.59L1219.2 1086.59L1221.4 1086.59L1223.6 1086.59L1225.8 1086.59L1228 1086.59L1230.2 1086.59L1232.4 1086.59L1234.6 1086.59L1236.8 1086.59L1239 1086.59L1241.2 1086.59" fill="none" stroke="#9b59b6" stroke-width="3.12" stroke-linejoin="round" stroke-linecap="square"/>
<path clip-path="url(#c2)" d="M692 1098V845" stroke="#e74c3c" stroke-opacity="0.7" stroke-width="2.08" stroke-dasharray="7.7083 3.3333"/>
<path d="M88 1098.8333V844.1667" stroke="#000" stroke-opacity="0.8333" stroke-width="2"/>
<path d="M87.1667 1098H1296.8333" stroke="#000" stroke-opacity="0.8333" stroke-width="2"/>
</svg>
</body></html>
